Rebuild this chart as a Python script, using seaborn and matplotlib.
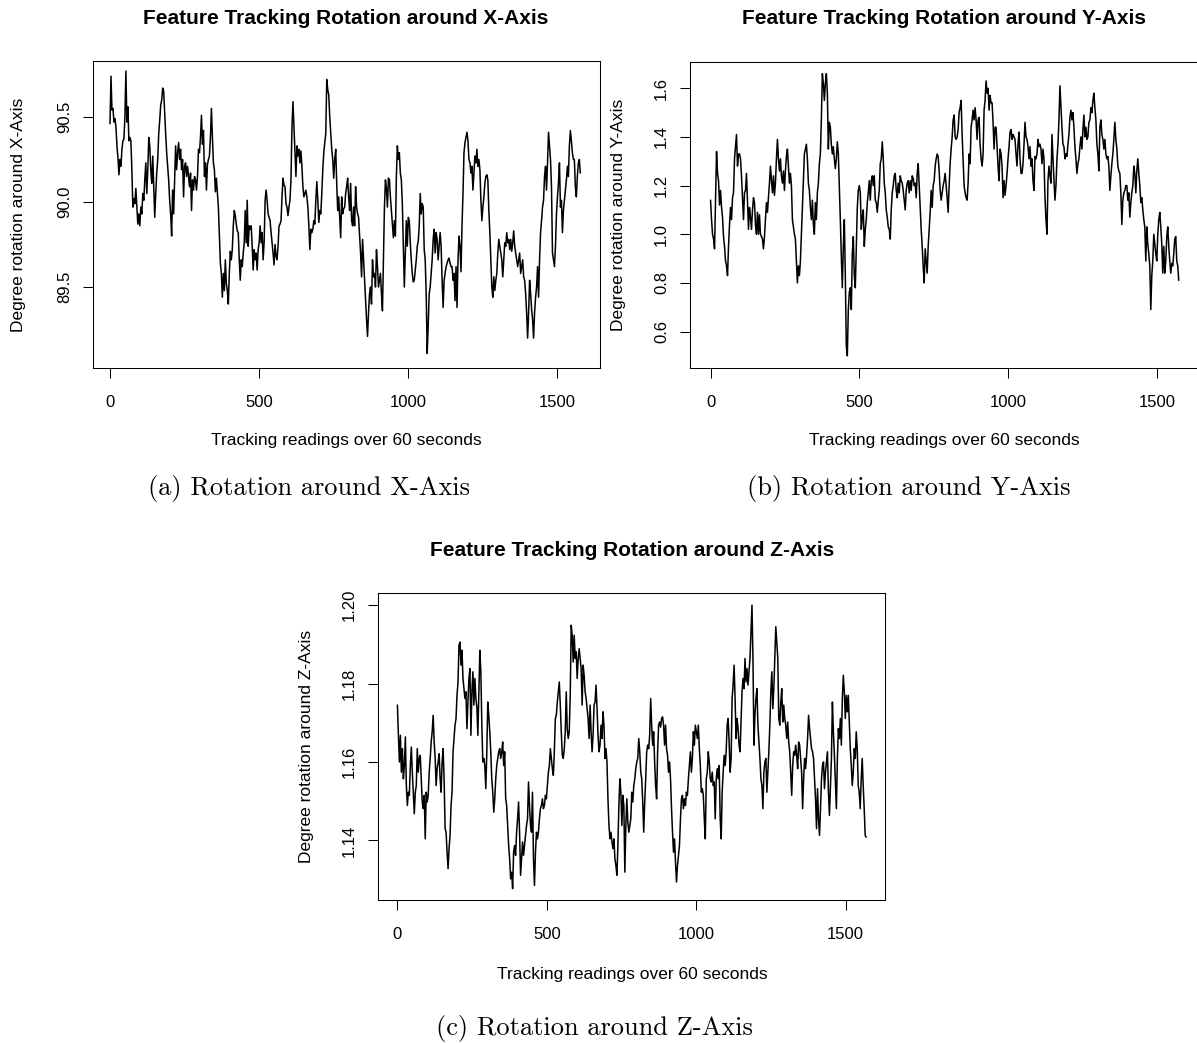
import numpy as np
import pandas as pd
import matplotlib
matplotlib.use("Agg")
import matplotlib.pyplot as plt
import seaborn as sns
from matplotlib.ticker import FixedLocator, StrMethodFormatter

# rotation around X-axis (degrees), evenly spaced tracking readings
rot_x = [
    90.46, 90.74, 90.54, 90.55, 90.47, 90.49, 90.44, 90.33, 90.26, 90.16,
    90.25, 90.21, 90.31, 90.36, 90.37, 90.50, 90.77, 90.47, 90.56, 90.36,
    90.38, 90.36, 90.19, 89.97, 90.02, 89.99, 90.08, 89.97, 89.87, 89.93,
    89.86, 89.97, 89.93, 90.05, 90.01, 90.13, 90.23, 90.05, 90.19, 90.38,
    90.33, 90.19, 90.11, 90.27, 90.09, 89.91, 90.05, 90.17, 90.25, 90.40,
    90.48, 90.57, 90.60, 90.67, 90.65, 90.52, 90.40, 90.29, 90.21, 90.13,
    90.01, 89.93, 89.80, 90.07, 89.93, 90.13, 90.33, 90.19, 90.29, 90.35,
    90.25, 90.31, 90.19, 90.25, 90.03, 90.21, 90.23, 90.15, 90.21, 90.15,
    90.09, 90.17, 89.95, 90.13, 90.07, 90.15, 90.13, 90.07, 90.15, 90.31,
    90.29, 90.38, 90.51, 90.34, 90.42, 90.15, 90.23, 90.07, 90.22, 90.25,
    90.27, 90.38, 90.55, 90.38, 90.23, 90.19, 90.06, 90.14, 90.05, 89.97,
    89.80, 89.64, 89.58, 89.44, 89.58, 89.48, 89.66, 89.52, 89.48, 89.40,
    89.58, 89.71, 89.66, 89.72, 89.86, 89.95, 89.92, 89.87, 89.83, 89.82,
    89.66, 89.54, 89.66, 89.62, 89.70, 89.76, 89.95, 89.76, 90.01, 89.74,
    89.86, 89.84, 89.86, 89.74, 89.60, 89.72, 89.66, 89.70, 89.60, 89.72,
    89.76, 89.86, 89.76, 89.82, 89.66, 89.76, 90.01, 90.07, 90.01, 89.93,
    89.91, 89.89, 89.82, 89.76, 89.70, 89.63, 89.75, 89.68, 89.66, 89.74,
    89.86, 89.87, 89.89, 90.03, 90.14, 90.10, 90.09, 89.99, 89.97, 89.92,
    89.97, 90.01, 90.13, 90.44, 90.59, 90.44, 90.29, 90.15, 90.33, 90.27,
    90.31, 90.23, 90.30, 90.21, 90.09, 90.03, 90.05, 90.07, 90.03, 89.97,
    89.86, 89.72, 89.84, 89.82, 89.84, 89.89, 89.87, 90.01, 90.12, 90.01,
    89.88, 89.95, 89.93, 90.05, 90.19, 90.29, 90.35, 90.40, 90.72, 90.66,
    90.63, 90.50, 90.40, 90.31, 90.25, 90.14, 90.25, 90.31, 90.11, 89.95,
    90.03, 89.91, 89.79, 90.03, 89.93, 89.96, 89.97, 90.05, 90.09, 90.14,
    90.03, 89.95, 90.11, 89.89, 89.86, 89.97, 89.86, 90.09, 89.97, 89.93,
    89.91, 89.80, 89.70, 89.56, 89.78, 89.66, 89.54, 89.42, 89.31, 89.21,
    89.35, 89.46, 89.50, 89.40, 89.66, 89.56, 89.58, 89.50, 89.72, 89.62,
    89.50, 89.54, 89.58, 89.46, 89.36, 89.68, 89.97, 90.13, 90.08, 89.97,
    90.14, 90.13, 90.03, 89.95, 89.87, 89.79, 89.89, 89.80, 90.15, 90.33,
    90.25, 90.29, 90.17, 90.13, 89.99, 89.74, 89.50, 89.70, 89.89, 89.74,
    89.91, 89.89, 89.76, 89.66, 89.58, 89.53, 89.54, 89.60, 89.66, 89.74,
    89.77, 89.86, 90.05, 89.93, 89.99, 89.97, 89.72, 89.66, 89.46, 89.11,
    89.27, 89.46, 89.50, 89.58, 89.66, 89.78, 89.84, 89.70, 89.82, 89.78,
    89.66, 89.74, 89.82, 89.74, 89.54, 89.38, 89.54, 89.58, 89.62, 89.64,
    89.66, 89.67, 89.64, 89.62, 89.62, 89.54, 89.58, 89.42, 89.62, 89.38,
    89.66, 89.80, 89.74, 89.59, 89.86, 90.05, 90.29, 90.35, 90.38, 90.41,
    90.36, 90.25, 90.23, 90.17, 90.21, 90.07, 90.17, 90.27, 90.23, 90.31,
    90.21, 90.25, 90.19, 90.01, 89.89, 89.97, 90.03, 90.11, 90.15, 90.16,
    90.13, 89.95, 89.82, 89.66, 89.50, 89.44, 89.56, 89.48, 89.54, 89.58,
    89.70, 89.78, 89.74, 89.70, 89.66, 89.56, 89.66, 89.76, 89.74, 89.82,
    89.76, 89.78, 89.72, 89.78, 89.71, 89.76, 89.83, 89.74, 89.70, 89.66,
    89.62, 89.66, 89.70, 89.58, 89.62, 89.66, 89.56, 89.54, 89.46, 89.35,
    89.20, 89.35, 89.54, 89.46, 89.37, 89.31, 89.20, 89.35, 89.44, 89.50,
    89.62, 89.44, 89.66, 89.82, 89.89, 89.97, 90.01, 90.15, 90.21, 90.07,
    90.23, 90.41, 90.33, 90.25, 90.09, 89.70, 89.66, 89.62, 89.74, 89.93,
    90.03, 90.11, 90.23, 89.97, 90.01, 89.82, 89.95, 90.01, 90.07, 90.13,
    90.21, 90.15, 90.33, 90.42, 90.36, 90.29, 90.25, 90.25, 90.09, 90.03,
    90.15, 90.23, 90.25, 90.17,
]

# rotation around Y-axis (degrees)
rot_y = [
    1.14, 1.06, 1.00, 0.98, 0.94, 1.14, 1.34, 1.25, 1.22, 1.12,
    1.18, 1.11, 1.07, 0.99, 0.95, 0.89, 0.87, 0.83, 0.95, 1.04,
    1.11, 1.06, 1.15, 1.17, 1.31, 1.36, 1.41, 1.28, 1.33, 1.33,
    1.31, 1.24, 1.15, 1.06, 1.17, 1.18, 1.25, 1.13, 1.02, 1.11,
    1.07, 1.02, 1.10, 1.15, 1.13, 1.04, 1.00, 1.09, 1.00, 1.08,
    1.00, 0.99, 0.98, 0.94, 0.99, 1.06, 1.13, 1.09, 1.15, 1.21,
    1.28, 1.22, 1.17, 1.24, 1.16, 1.21, 1.31, 1.39, 1.31, 1.26,
    1.31, 1.24, 1.21, 1.26, 1.18, 1.26, 1.32, 1.35, 1.28, 1.21,
    1.25, 1.20, 1.06, 1.03, 1.00, 0.98, 0.89, 0.80, 0.87, 0.83,
    0.89, 1.00, 1.10, 1.22, 1.33, 1.35, 1.37, 1.31, 1.21, 1.18,
    1.11, 1.06, 1.14, 1.04, 1.00, 1.13, 1.06, 1.17, 1.21, 1.29,
    1.33, 1.47, 1.66, 1.62, 1.55, 1.62, 1.66, 1.58, 1.35, 1.46,
    1.44, 1.37, 1.33, 1.36, 1.31, 1.27, 1.31, 1.38, 1.33, 1.20,
    1.06, 0.91, 0.78, 0.95, 1.06, 0.83, 0.54, 0.50, 0.69, 0.76,
    0.78, 0.69, 0.92, 0.99, 0.83, 0.78, 0.95, 1.11, 1.18, 1.20,
    1.17, 1.02, 1.07, 1.10, 0.95, 1.02, 1.06, 1.13, 1.17, 1.22,
    1.14, 1.22, 1.24, 1.20, 1.24, 1.14, 1.13, 1.09, 1.14, 1.18,
    1.29, 1.31, 1.38, 1.31, 1.21, 1.17, 1.10, 1.07, 1.03, 1.02,
    0.98, 1.10, 1.17, 1.20, 1.24, 1.25, 1.18, 1.15, 1.21, 1.17,
    1.24, 1.22, 1.21, 1.18, 1.14, 1.10, 1.18, 1.21, 1.22, 1.17,
    1.22, 1.18, 1.24, 1.23, 1.20, 1.21, 1.15, 1.25, 1.29, 1.20,
    1.11, 1.02, 0.95, 0.87, 0.80, 0.94, 0.89, 0.84, 0.95, 1.02,
    1.09, 1.18, 1.11, 1.20, 1.22, 1.28, 1.31, 1.33, 1.32, 1.26,
    1.18, 1.14, 1.17, 1.20, 1.22, 1.25, 1.20, 1.15, 1.09, 1.20,
    1.29, 1.35, 1.40, 1.47, 1.49, 1.40, 1.39, 1.40, 1.43, 1.50,
    1.52, 1.55, 1.41, 1.31, 1.20, 1.17, 1.15, 1.14, 1.21, 1.33,
    1.29, 1.44, 1.47, 1.51, 1.47, 1.52, 1.47, 1.39, 1.47, 1.48,
    1.37, 1.31, 1.28, 1.33, 1.51, 1.55, 1.63, 1.58, 1.60, 1.51,
    1.57, 1.54, 1.54, 1.46, 1.35, 1.44, 1.44, 1.36, 1.28, 1.22,
    1.35, 1.33, 1.28, 1.15, 1.22, 1.16, 1.20, 1.25, 1.31, 1.36,
    1.42, 1.43, 1.39, 1.41, 1.40, 1.39, 1.33, 1.28, 1.37, 1.42,
    1.31, 1.25,
    1.25, 1.29, 1.37, 1.46, 1.40, 1.39, 1.36, 1.31, 1.36, 1.28,
    1.31, 1.22, 1.18, 1.32, 1.31, 1.33, 1.39, 1.36, 1.37, 1.35,
    1.29, 1.35, 1.31, 1.15, 1.06, 1.00, 1.22, 1.28, 1.24, 1.21,
    1.41, 1.31, 1.22, 1.14, 1.20, 1.31, 1.37, 1.47, 1.61, 1.52,
    1.44, 1.37, 1.36, 1.31, 1.33, 1.32, 1.37, 1.41, 1.48, 1.51,
    1.47, 1.50, 1.44, 1.36, 1.31, 1.25, 1.29, 1.31, 1.36, 1.40,
    1.35, 1.43, 1.49, 1.40, 1.44, 1.39, 1.40, 1.46, 1.47, 1.52,
    1.50, 1.55, 1.58, 1.52, 1.47, 1.37, 1.33, 1.26, 1.44, 1.47,
    1.41, 1.39, 1.35, 1.39, 1.33, 1.31, 1.32, 1.28, 1.18, 1.24,
    1.29, 1.33, 1.39, 1.46, 1.39, 1.35, 1.28, 1.26, 1.25, 1.17,
    1.04, 1.14, 1.17, 1.18, 1.20, 1.20, 1.14, 1.17, 1.07, 1.13,
    1.17, 1.20, 1.28, 1.25, 1.17, 1.26, 1.31, 1.25, 1.20, 1.13,
    1.15, 1.10, 1.06, 1.03, 0.89, 1.03, 0.96, 0.92, 0.87, 0.69,
    0.83, 0.89, 1.00, 0.96, 0.92, 0.89, 1.00, 1.06, 1.09, 1.03,
    0.96, 0.84, 0.95, 0.84, 0.89, 0.99, 1.03, 0.95, 0.89, 0.84,
    0.88, 0.87, 0.92, 0.98, 0.99, 0.89, 0.87, 0.81,
]

# rotation around Z-axis (degrees)
rot_z = [
    1.1745, 1.1668, 1.1600, 1.1668, 1.1574, 1.1634, 1.1557, 1.1591, 1.1664, 1.1540,
    1.1489, 1.1523, 1.1515, 1.1591, 1.1638, 1.1574, 1.1523, 1.1468, 1.1523, 1.1540,
    1.1634, 1.1574, 1.1609, 1.1617, 1.1557, 1.1498, 1.1481, 1.1515, 1.1404, 1.1523,
    1.1498, 1.1515, 1.1574, 1.1609, 1.1651, 1.1677, 1.1719, 1.1651, 1.1609, 1.1540,
    1.1583, 1.1600, 1.1621, 1.1557, 1.1523, 1.1600, 1.1634, 1.1557, 1.1430, 1.1421,
    1.1370, 1.1328, 1.1379, 1.1413, 1.1489, 1.1523, 1.1626, 1.1660, 1.1694, 1.1711,
    1.1770, 1.1804, 1.1898, 1.1906, 1.1847, 1.1885, 1.1813, 1.1787, 1.1762, 1.1779,
    1.1685, 1.1753, 1.1813, 1.1838, 1.1668, 1.1779, 1.1830, 1.1745, 1.1813, 1.1762,
    1.1740, 1.1668, 1.1779, 1.1885, 1.1830, 1.1694, 1.1600, 1.1609, 1.1591, 1.1532,
    1.1626, 1.1753, 1.1719, 1.1677, 1.1626, 1.1557, 1.1523, 1.1472, 1.1506, 1.1557,
    1.1591, 1.1609, 1.1626, 1.1634, 1.1609, 1.1626, 1.1651, 1.1591, 1.1626, 1.1506,
    1.1489, 1.1438, 1.1387, 1.1353, 1.1302, 1.1319, 1.1277, 1.1370, 1.1387, 1.1362,
    1.1421, 1.1455, 1.1498, 1.1421, 1.1311, 1.1353, 1.1396, 1.1362, 1.1387, 1.1413,
    1.1438, 1.1455, 1.1549, 1.1489, 1.1438, 1.1421, 1.1523, 1.1353, 1.1285, 1.1370,
    1.1421, 1.1404, 1.1421, 1.1455, 1.1481, 1.1489, 1.1506, 1.1481, 1.1489, 1.1515,
    1.1506, 1.1540, 1.1574, 1.1591,
    1.1634, 1.1609, 1.1583, 1.1566, 1.1626, 1.1711, 1.1719, 1.1753, 1.1779, 1.1804,
    1.1745, 1.1677, 1.1617, 1.1609, 1.1634, 1.1677, 1.1779, 1.1685, 1.1660, 1.1677,
    1.1770, 1.1949, 1.1923, 1.1855, 1.1923, 1.1864, 1.1881, 1.1813, 1.1864, 1.1889,
    1.1864, 1.1838, 1.1745, 1.1847, 1.1821, 1.1779, 1.1762, 1.1736, 1.1711, 1.1660,
    1.1745, 1.1677, 1.1626, 1.1668, 1.1745, 1.1753, 1.1796, 1.1736, 1.1668, 1.1626,
    1.1643, 1.1694, 1.1660, 1.1728, 1.1694, 1.1609, 1.1634, 1.1600, 1.1506, 1.1438,
    1.1404, 1.1421, 1.1396, 1.1379, 1.1404, 1.1353, 1.1336, 1.1311, 1.1387, 1.1489,
    1.1557, 1.1523, 1.1438, 1.1515, 1.1489, 1.1319, 1.1438, 1.1506, 1.1447, 1.1421,
    1.1438, 1.1455, 1.1523, 1.1498, 1.1540, 1.1557, 1.1583, 1.1600, 1.1609, 1.1660,
    1.1626, 1.1574, 1.1557, 1.1498, 1.1421, 1.1498, 1.1557, 1.1626, 1.1643, 1.1634,
    1.1668, 1.1762, 1.1694, 1.1643, 1.1677, 1.1600, 1.1540, 1.1506, 1.1626, 1.1694,
    1.1702, 1.1689, 1.1711, 1.1715, 1.1694, 1.1643, 1.1694, 1.1634, 1.1617, 1.1574,
    1.1600, 1.1557, 1.1481, 1.1421, 1.1370, 1.1404, 1.1345, 1.1294, 1.1336, 1.1362,
    1.1387, 1.1455, 1.1506, 1.1515, 1.1481, 1.1506, 1.1489, 1.1523, 1.1515, 1.1557,
    1.1591, 1.1626, 1.1574, 1.1609, 1.1677, 1.1643, 1.1694, 1.1677, 1.1660, 1.1694,
    1.1634, 1.1591, 1.1523, 1.1532, 1.1515, 1.1455, 1.1404, 1.1557, 1.1574, 1.1626,
    1.1600, 1.1557, 1.1549,
    1.1574, 1.1540, 1.1549, 1.1455, 1.1557, 1.1583, 1.1557, 1.1591, 1.1455, 1.1404,
    1.1523, 1.1574, 1.1617, 1.1591, 1.1626, 1.1694, 1.1711, 1.1651, 1.1574, 1.1609,
    1.1762, 1.1796, 1.1847, 1.1762, 1.1660, 1.1711, 1.1685, 1.1643, 1.1626, 1.1702,
    1.1779, 1.1813, 1.1787, 1.1864, 1.1804, 1.1838, 1.1796, 1.1830, 1.1864, 1.1932,
    1.2000, 1.1864, 1.1643, 1.1719, 1.1762, 1.1787, 1.1694, 1.1651, 1.1609, 1.1557,
    1.1540, 1.1481, 1.1574, 1.1600, 1.1609, 1.1523, 1.1574, 1.1626, 1.1694, 1.1779,
    1.1830, 1.1736, 1.1787, 1.1864, 1.1945, 1.1906, 1.1864, 1.1711, 1.1694, 1.1753,
    1.1787, 1.1702, 1.1745, 1.1711, 1.1694, 1.1660, 1.1702, 1.1651, 1.1626, 1.1574,
    1.1515, 1.1591, 1.1626, 1.1617, 1.1643, 1.1617, 1.1583, 1.1651, 1.1643, 1.1609,
    1.1574, 1.1481, 1.1557, 1.1609, 1.1583, 1.1617, 1.1660, 1.1719, 1.1685, 1.1660,
    1.1634, 1.1626, 1.1609, 1.1557, 1.1506, 1.1430, 1.1532, 1.1455, 1.1413, 1.1481,
    1.1557, 1.1591, 1.1600, 1.1532, 1.1574, 1.1600, 1.1626, 1.1523, 1.1464, 1.1540,
    1.1609, 1.1753, 1.1677, 1.1617, 1.1549, 1.1481, 1.1609, 1.1685, 1.1660, 1.1711,
    1.1643, 1.1762, 1.1821, 1.1779, 1.1711, 1.1770, 1.1728, 1.1770, 1.1702, 1.1634,
    1.1591, 1.1540, 1.1574, 1.1634, 1.1609, 1.1677, 1.1634, 1.1540, 1.1523, 1.1481,
    1.1557, 1.1609, 1.1540, 1.1481, 1.1413, 1.1408,
]

# last reading index of each recording
last_reading = {"x": 1578, "y": 1572, "z": 1569}

titles = ["Feature Tracking Rotation around X-Axis",
          "Feature Tracking Rotation around Y-Axis",
          "Feature Tracking Rotation around Z-Axis"]
ylabels = ["Degree rotation around X-Axis",
           "Degree rotation around Y-Axis",
           "Degree rotation around Z-Axis"]
captions = ["(a) Rotation around X-Axis",
            "(b) Rotation around Y-Axis",
            "(c) Rotation around Z-Axis"]
xlabel = "Tracking readings over 60 seconds"
xticks = [0, 500, 1000, 1500]
yticks = [[89.5, 90.0, 90.5],
          [0.6, 0.8, 1.0, 1.2, 1.4, 1.6],
          [1.14, 1.16, 1.18, 1.20]]
yfmt = ["{x:.1f}", "{x:.1f}", "{x:.2f}"]

sns.set_style("white")
plt.rcParams["font.family"] = ["Liberation Sans", "DejaVu Sans"]
plt.rcParams["text.color"] = "black"

W, H = 1197, 1043
fig = plt.figure(figsize=(W / 100, H / 100), dpi=100)


def box(left, top, right, bottom):
    return [left / W, 1 - bottom / H, (right - left) / W, (bottom - top) / H]


# pixel boxes of the three plot regions, and their data limits
panels = [
    dict(box=box(93, 61, 600, 368), xlim=(-57, 1644), ylim=(89.024, 90.829),
         title=(346, 19), ylab=19, cap=(309, 489), xlab=(346, 441)),
    dict(box=box(690, 62, 1199, 368), xlim=(-69, 1640), ylim=(0.450, 1.708),
         title=(944, 19), ylab=619, cap=(909, 489), xlab=(944, 441)),
    dict(box=box(378, 593, 885, 900), xlim=(-65, 1632), ylim=(1.1248, 1.2031),
         title=(632, 551), ylab=306, cap=(594, 1028), xlab=(632, 974)),
]
series = [rot_x, rot_y, rot_z]
keys = ["x", "y", "z"]

for i, p in enumerate(panels):
    vals = series[i]
    df = pd.DataFrame({
        "reading": np.linspace(0, last_reading[keys[i]], len(vals)),
        "value": vals,
    })
    ax = fig.add_axes(p["box"])
    sns.lineplot(data=df, x="reading", y="value", ax=ax, color="black",
                 linewidth=1.1, estimator=None, sort=False)
    ax.set_xlim(*p["xlim"])
    ax.set_ylim(*p["ylim"])
    ax.xaxis.set_major_locator(FixedLocator(xticks))
    ax.yaxis.set_major_locator(FixedLocator(yticks[i]))
    ax.yaxis.set_major_formatter(StrMethodFormatter(yfmt[i]))
    ax.tick_params(direction="out", length=7.2, width=0.75, color="black",
                   labelsize=12, labelcolor="black", left=True, bottom=True)
    ax.tick_params(axis="x", pad=12)
    ax.tick_params(axis="y", pad=8)
    for lab in ax.get_yticklabels():
        lab.set_rotation(90)
        lab.set_va("center")
    for sp in ax.spines.values():
        sp.set_visible(True)
        sp.set_color("black")
        sp.set_linewidth(0.75)
    ax.set_xlabel("")
    ax.set_ylabel("")
    ax.grid(False)

    tx, ty = p["title"]
    fig.text(tx / W, 1 - ty / H, titles[i], ha="center", va="center",
             fontsize=15, fontweight="bold")
    bx = p["box"]
    fig.text(p["ylab"] / W, bx[1] + bx[3] / 2, ylabels[i], rotation=90,
             ha="center", va="center", fontsize=12.5)
    lx, ly = p["xlab"]
    fig.text(lx / W, 1 - ly / H, xlabel, ha="center", va="center",
             fontsize=12.5)
    cx, cy = p["cap"]
    fig.text(cx / W, 1 - cy / H, captions[i], ha="center", va="center",
             fontsize=19, family="cmr10")

fig.savefig("out.png", dpi=100)
